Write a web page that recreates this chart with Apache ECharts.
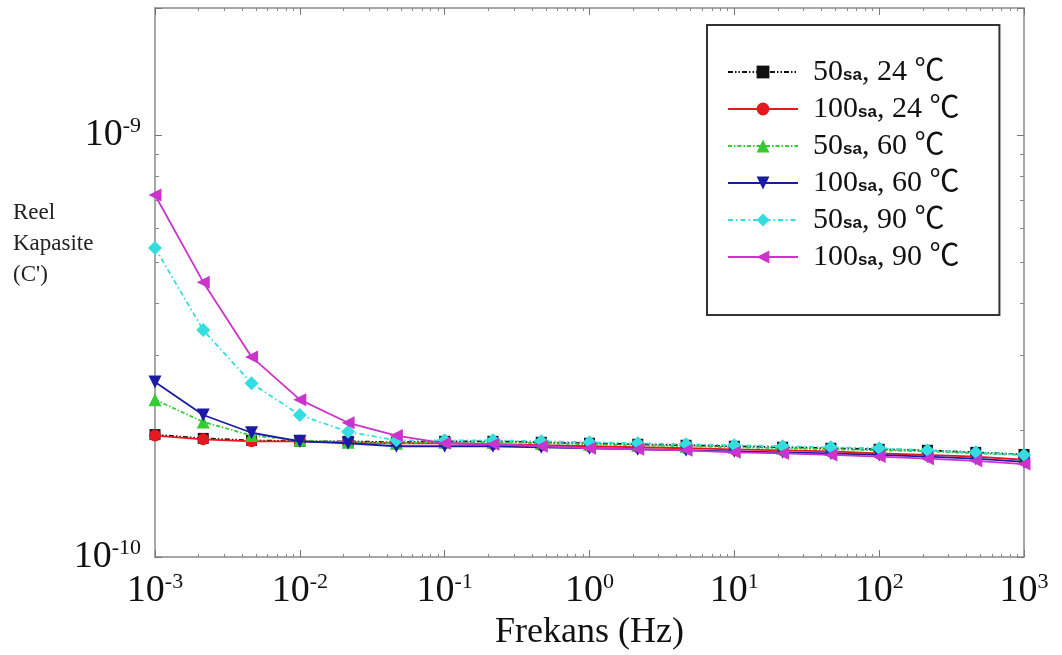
<!DOCTYPE html>
<html>
<head>
<meta charset="utf-8">
<script src="https://cdn.jsdelivr.net/npm/echarts@6/dist/echarts.min.js"></script>
<style>html,body{margin:0;padding:0;background:#fff;}#chart{width:1062px;height:655px;}</style>
</head>
<body>
<div id="chart"></div>
<script>
// Frequency points (Hz), 3 per decade
var freq = [1e-3, 2.154e-3, 4.642e-3, 1e-2, 2.154e-2, 4.642e-2, 1e-1, 2.154e-1, 4.642e-1, 1, 2.154, 4.642, 10, 21.54, 46.42, 100, 215.4, 464.2, 1000];

var s50_24  = [1.95e-10, 1.91e-10, 1.89e-10, 1.88e-10, 1.88e-10, 1.87e-10, 1.88e-10, 1.88e-10, 1.87e-10, 1.86e-10, 1.85e-10, 1.84e-10, 1.83e-10, 1.82e-10, 1.81e-10, 1.80e-10, 1.79e-10, 1.77e-10, 1.75e-10];
var s100_24 = [1.94e-10, 1.90e-10, 1.88e-10, 1.88e-10, 1.87e-10, 1.86e-10, 1.86e-10, 1.85e-10, 1.84e-10, 1.83e-10, 1.82e-10, 1.81e-10, 1.80e-10, 1.79e-10, 1.78e-10, 1.76e-10, 1.745e-10, 1.73e-10, 1.70e-10];
var s50_60  = [2.36e-10, 2.09e-10, 1.94e-10, 1.89e-10, 1.87e-10, 1.86e-10, 1.87e-10, 1.87e-10, 1.86e-10, 1.85e-10, 1.84e-10, 1.83e-10, 1.82e-10, 1.81e-10, 1.80e-10, 1.79e-10, 1.78e-10, 1.76e-10, 1.745e-10];
var s100_60 = [2.60e-10, 2.17e-10, 1.97e-10, 1.88e-10, 1.86e-10, 1.83e-10, 1.83e-10, 1.83e-10, 1.82e-10, 1.81e-10, 1.80e-10, 1.79e-10, 1.78e-10, 1.77e-10, 1.76e-10, 1.745e-10, 1.73e-10, 1.71e-10, 1.68e-10];
var s50_90  = [5.40e-10, 3.45e-10, 2.58e-10, 2.17e-10, 1.98e-10, 1.89e-10, 1.89e-10, 1.89e-10, 1.88e-10, 1.87e-10, 1.86e-10, 1.85e-10, 1.84e-10, 1.83e-10, 1.82e-10, 1.81e-10, 1.79e-10, 1.77e-10, 1.745e-10];
var s100_90 = [7.21e-10, 4.48e-10, 2.98e-10, 2.36e-10, 2.08e-10, 1.94e-10, 1.86e-10, 1.85e-10, 1.83e-10, 1.81e-10, 1.80e-10, 1.79e-10, 1.77e-10, 1.76e-10, 1.745e-10, 1.73e-10, 1.71e-10, 1.69e-10, 1.66e-10];

var seriesNames = ['50sa, 24 ℃', '100sa, 24 ℃', '50sa, 60 ℃', '100sa, 60 ℃', '50sa, 90 ℃', '100sa, 90 ℃'];
var seriesValues = [s50_24, s100_24, s50_60, s100_60, s50_90, s100_90];
var seriesColors = ['#111111', '#e3191f', '#33cc33', '#1a1aa6', '#33dde0', '#cc33cc'];
var seriesSymbols = ['rect', 'circle', 'triangle', 'triangle', 'diamond', 'triangle'];
var seriesRotate = [0, 0, 0, 180, 0, 90];
var seriesSymbolSize = [11, 12, 13, 13, 14, 13];
var seriesDash = [[5, 2, 1.5, 2, 1.5, 2], 'solid', [4, 2, 1.5, 2], 'solid', [5, 3, 1.5, 3], 'solid'];

var serif = "'Liberation Serif', 'Noto Sans CJK SC', serif";

function powLabel(v) {
  var e = Math.log10(v);
  var r = Math.round(e);
  if (Math.abs(e - r) > 1e-6) return '';
  return '{b|10}{s|' + r + '}';
}
var labelRich = {
  b: { fontFamily: serif, fontSize: 38, color: '#111', lineHeight: 40 },
  s: { fontFamily: serif, fontSize: 22, color: '#111', verticalAlign: 'top', lineHeight: 40, padding: [0, 0, 16, 0] }
};

var axisLineStyle = { color: '#8a8a8a', width: 1.5 };
function mkX(pos, showLabel, name) {
  return {
    type: 'log', logBase: 10, min: 1e-3, max: 1e3, position: pos,
    name: name || '', nameLocation: 'middle', nameGap: 56,
    nameTextStyle: { fontFamily: serif, fontSize: 36, color: '#111' },
    axisLine: { show: true, lineStyle: axisLineStyle },
    axisTick: { show: true, inside: true, length: 7, lineStyle: { color: '#777', width: 1 } },
    minorTick: { show: true, splitNumber: 9, length: 3, lineStyle: { color: '#888', width: 1 } },
    axisLabel: { show: showLabel, margin: 14, formatter: powLabel, rich: labelRich },
    splitLine: { show: false }, minorSplitLine: { show: false }
  };
}
function mkY(pos, showLabel) {
  return {
    type: 'log', logBase: 10, min: 1e-10, max: 2e-9, position: pos,
    axisLine: { show: true, lineStyle: axisLineStyle },
    axisTick: { show: true, inside: true, length: 7, lineStyle: { color: '#777', width: 1 } },
    minorTick: { show: true, splitNumber: 9, length: 4, lineStyle: { color: '#888', width: 1 } },
    axisLabel: { show: showLabel, margin: 14, formatter: powLabel, rich: labelRich },
    splitLine: { show: false }, minorSplitLine: { show: false }
  };
}

var series = seriesNames.map(function (n, i) {
  return {
    name: n, type: 'line', xAxisIndex: 0, yAxisIndex: 0,
    data: freq.map(function (f, k) { return [f, seriesValues[i][k]]; }),
    symbol: seriesSymbols[i], symbolRotate: seriesRotate[i], symbolSize: seriesSymbolSize[i],
    showAllSymbol: true,
    itemStyle: { color: seriesColors[i] },
    lineStyle: { color: seriesColors[i], width: 1.8, type: seriesDash[i] },
    z: 2 + i
  };
});

var chart = echarts.init(document.getElementById('chart'), null, { renderer: 'canvas' });
chart.setOption({
  backgroundColor: '#fff',
  animation: false,
  title: {
    text: "Reel\nKapasite\n(C')", left: 8, top: 192,
    textStyle: { fontFamily: serif, fontSize: 23, fontWeight: 'normal', color: '#222', lineHeight: 31 }
  },
  grid: { left: 155, right: 38, top: 8, bottom: 98, containLabel: false, outerBoundsMode: 'none' },
  xAxis: [mkX('bottom', true, 'Frekans (Hz)'), mkX('top', false)],
  yAxis: [mkY('left', true), mkY('right', false)],
  legend: {
    orient: 'vertical', left: 707, top: 25,
    backgroundColor: '#fff', borderColor: '#333', borderWidth: 2,
    padding: [32, 40, 43, 20], itemWidth: 70, itemHeight: 16, itemGap: 7,
    data: seriesNames,
    formatter: function (name) {
      var m = name.match(/^(\d+)sa, (.*)$/);
      return '{g| }{n|' + m[1] + '}{s|sa}{n|, ' + m[2] + '}';
    },
    textStyle: {
      fontFamily: serif, fontSize: 30, color: '#111',
      rich: {
        g: { width: 10, fontSize: 30, lineHeight: 30 },
        n: { fontFamily: serif, fontSize: 30, color: '#111', lineHeight: 30 },
        s: { fontFamily: "'Liberation Sans', sans-serif", fontSize: 17, fontWeight: 'bold', color: '#111', lineHeight: 30, verticalAlign: 'bottom', padding: [0, 0, 3, 0] }
      }
    }
  },
  series: series
});
</script>
</body>
</html>
